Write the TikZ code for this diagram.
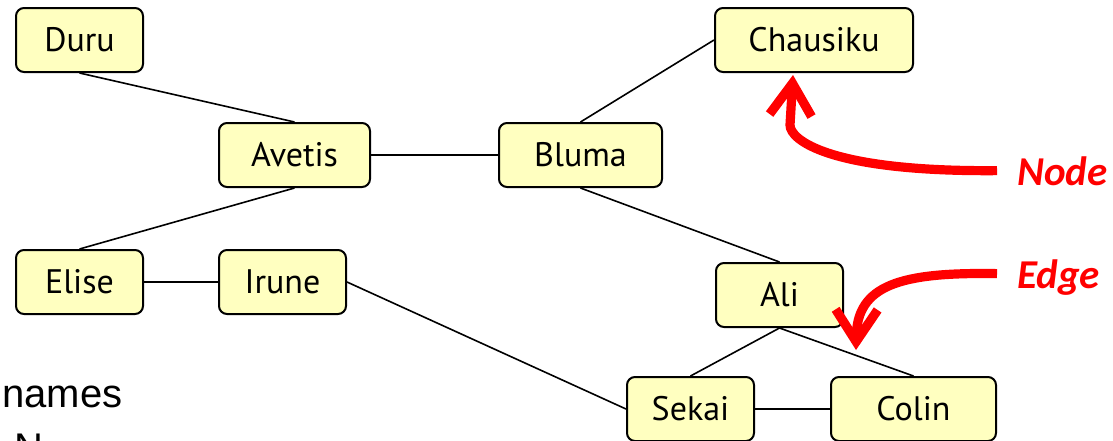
\documentclass[tikz,border=0pt]{standalone}
\usepackage{fontspec}
\setmainfont{PT Sans}
\newfontfamily\calloutfont{Carlito}
\newfontfamily\notefont{Liberation Sans}
\usetikzlibrary{arrows.meta}
\definecolor{nodeyellow}{RGB}{255,255,192}

\begin{document}
\begin{tikzpicture}[x=0.5pt, y=-0.5pt,
    person/.style={rectangle, draw, line width=1pt, fill=nodeyellow, rounded corners=4pt, minimum width=63.5pt, minimum height=32pt, inner sep=0pt, font=\fontsize{17}{20}\selectfont},
    link/.style={line width=0.8pt},
    callout/.style={font=\calloutfont\fontsize{20.5}{24}\selectfont\bfseries\itshape, text=red, inner xsep=10pt, inner ysep=0pt, text depth=0pt, anchor=base west},
    pointer/.style={draw=red, line width=4.6pt, -{Straight Barb[length=16pt,width=21pt]}}
]
\useasboundingbox (0,0) rectangle (1113,440);

% Nodes
\node[person] (duru) at (79.5,40) {Duru};
\node[person, minimum width=75.5pt] (avetis) at (294.5,155) {Avetis};
\node[person] (elise) at (79.5,282) {Elise};
\node[person] (irune) at (282.5,282) {Irune};
\node[person, minimum width=99pt] (chausiku) at (814,40) {Chausiku};
\node[person, minimum width=81.5pt] (bluma) at (580.5,155) {Bluma};
\node[person] (ali) at (779.5,295) {Ali};
\node[person] (sekai) at (690.5,409) {Sekai};
\node[person, minimum width=82.5pt] (colin) at (913.5,409) {Colin};

% Text at the left
\node[font=\notefont\fontsize{20}{24}\selectfont, anchor=base west, inner sep=0pt] (names) at (2,407) {names};
\node[font=\notefont\fontsize{20}{24}\selectfont, anchor=base west, inner sep=0pt] (nextline) at (14,461) {N};

% Edges
\draw[link] (duru.south) -- (avetis.north);
\draw[link] (avetis.south) -- (elise.north);
\draw[link] (avetis.east) -- (bluma.west);
\draw[link] (elise.east) -- (irune.west);
\draw[link] (bluma.north) -- (chausiku.west);
\draw[link] (bluma.south) -- (ali.north);
\draw[link] (irune.east) -- (sekai.west);
\draw[link] (ali.south) -- (sekai.north);
\draw[link] (ali.south) -- (colin.north);
\draw[link] (sekai.east) -- (colin.west);

% Callouts
\node[callout] (nodetag) at (997,185) {Node};
\node[callout] (edgetag) at (997,288) {Edge};
\coordinate (nodetip) at (793,75);
\coordinate (edgetip) at (856,350);

\draw[pointer] (nodetag.west) .. controls (830,172) and (790,140) .. (790,125) -- (nodetip);
\draw[pointer] (edgetag.west) .. controls (900,272) and (857,285) .. (edgetip);

\end{tikzpicture}
\end{document}
